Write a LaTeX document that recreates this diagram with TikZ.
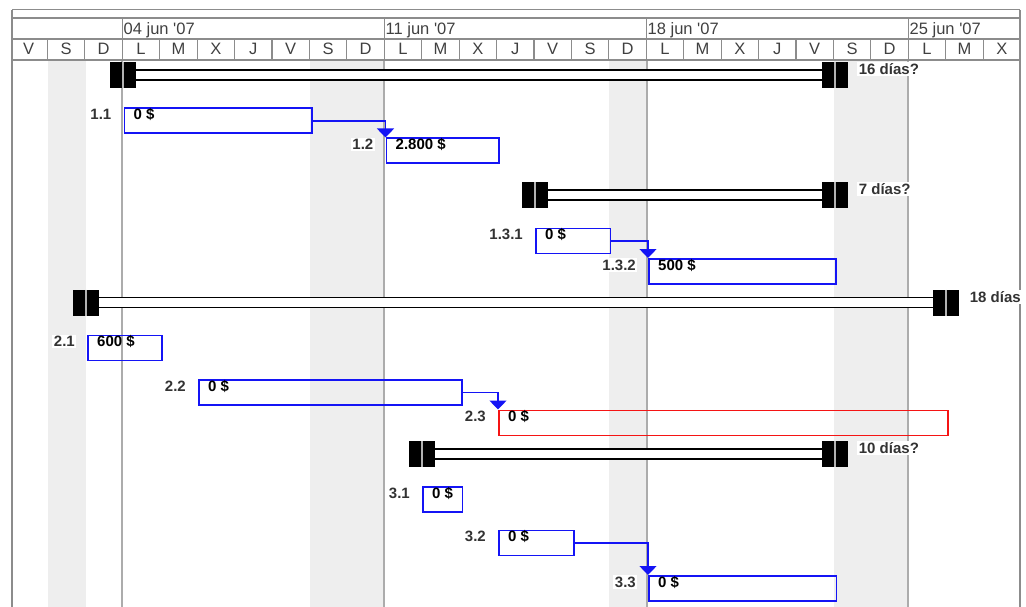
\documentclass[tikz,border=0pt]{standalone}
\usepackage{fontspec}
\setmainfont{Liberation Sans}
\usepackage{tikz}
\usetikzlibrary{arrows.meta}

\definecolor{gridgray}{RGB}{140,140,140}
\definecolor{hdrtext}{RGB}{64,64,64}
\definecolor{wbstext}{RGB}{51,51,51}
\definecolor{taskblue}{RGB}{20,20,245}
\definecolor{taskred}{RGB}{245,20,20}
\definecolor{weekend}{RGB}{238,238,238}
\definecolor{weekline}{RGB}{172,172,172}

\begin{document}
\begin{tikzpicture}[x=1pt,y=-1pt,
  hdr/.style={font=\fontsize{16.5}{18}\selectfont,text=hdrtext,inner sep=0pt},
  task/.style={draw=taskblue,line width=1.8pt,anchor=north west,minimum height=25pt,inner sep=0pt},
  crit/.style={task,draw=taskred},
  cost/.style={font=\fontsize{15}{17}\selectfont\bfseries,anchor=base west,xshift=10pt,yshift=-12pt,inner sep=0pt},
  wbs/.style={font=\fontsize{15}{17}\selectfont\bfseries,text=wbstext,fill=white,anchor=base east,xshift=-10.5pt,yshift=-12pt,inner sep=1.5pt},
  sumcap/.style={fill=black,minimum width=26pt,minimum height=26pt,inner sep=0pt,
    path picture={\draw[gray!60,line width=1.6pt] (path picture bounding box.north) -- (path picture bounding box.south);}},
  sumbar/.style={draw=black,line width=1.8pt,double=white,double distance=8.2pt},
  dur/.style={font=\fontsize{15}{17}\selectfont\bfseries,text=wbstext,fill=white,anchor=base west,xshift=9pt,yshift=-13pt,inner sep=1.5pt},
  link/.style={draw=taskblue,line width=1.5pt,-{Triangle[width=17pt,length=9pt]}}]
  \useasboundingbox (0,0) rectangle (1026,607);

  % weekends and week lines
  \foreach \a/\b in {48/86,309.5/384.4,609.3/646.7,833.9/908.3}
    \fill[weekend] (\a,60) rectangle (\b,607);
  \foreach \x in {122.3,384.4,646.7,908.3}
    \draw[weekline,line width=2pt] (\x,60) -- (\x,607);

  % timescale
  \draw[gridgray,line width=1pt] (12,10) -- (1020,10);
  \draw[gridgray,line width=2pt] (12,18) -- (1020,18);
  \draw[gridgray,line width=1.2pt] (12,39) -- (1020,39);
  \draw[gridgray,line width=1.4pt] (12,60) -- (1020,60);
  \draw[gridgray,line width=1.4pt] (12,10) -- (12,607);
  \draw[gridgray,line width=1.4pt] (1020,10) -- (1020,607);
  \foreach \k/\w in {0/04,7/11,14/18,21/25}{
    \draw[gridgray,line width=1.2pt] (122.3+\k*37.43,18) -- (122.3+\k*37.43,39);
    \node[hdr,anchor=base west] (w\w) at (123.5+\k*37.43,34.7) {\w\ jun \textquotesingle07};
  }
  \foreach \i in {1,...,26}
    \draw[gridgray,line width=1.2pt] (10+\i*37.43,39) -- (10+\i*37.43,60);
  \foreach \d [count=\i from 0] in {V,S,D,L,M,X,J,V,S,D,L,M,X,J,V,S,D,L,M,X,J,V,S,D,L,M,X}
    \node[hdr,anchor=base] (day\i) at (28.7+\i*37.43,55) {\d};

  % tasks
  \node[task,minimum width=187.5pt] (t11) at (123.5,107.5) {};
  \node[task,minimum width=112.5pt] (t12) at (385.5,137.5) {};
  \node[task,minimum width=74.5pt] (t131) at (535,227.5) {};
  \node[task,minimum width=187pt] (t132) at (648,258) {};
  \node[task,minimum width=74pt] (t21) at (87,334.5) {};
  \node[task,minimum width=263pt] (t22) at (198,379) {};
  \node[crit,minimum width=449pt] (t23) at (498,409.5) {};
  \node[task,minimum width=39.5pt] (t31) at (422,486) {};
  \node[task,minimum width=75pt] (t32) at (498,529.5) {};
  \node[task,minimum width=187.5pt] (t33) at (648,575) {};

  \node[cost] (c11) at (t11.north west) {0 \$};
  \node[cost] (c12) at (t12.north west) {2.800 \$};
  \node[cost] (c131) at (t131.north west) {0 \$};
  \node[cost] (c132) at (t132.north west) {500 \$};
  \node[cost] (c21) at (t21.north west) {600 \$};
  \node[cost] (c22) at (t22.north west) {0 \$};
  \node[cost] (c23) at (t23.north west) {0 \$};
  \node[cost] (c31) at (t31.north west) {0 \$};
  \node[cost] (c32) at (t32.north west) {0 \$};
  \node[cost] (c33) at (t33.north west) {0 \$};

  \draw[link] (t11.east) -| (t12.north west);
  \draw[link] (t131.east) -| (t132.north west);
  \draw[link] (t22.east) -| (t23.north west);
  \draw[link] (t32.east) -| (t33.north west);

  \node[wbs] (n11) at (t11.north west) {1.1};
  \node[wbs] (n12) at (t12.north west) {1.2};
  \node[wbs] (n131) at (t131.north west) {1.3.1};
  \node[wbs] (n132) at (t132.north west) {1.3.2};
  \node[wbs] (n21) at (t21.north west) {2.1};
  \node[wbs] (n22) at (t22.north west) {2.2};
  \node[wbs] (n23) at (t23.north west) {2.3};
  \node[wbs] (n31) at (t31.north west) {3.1};
  \node[wbs] (n32) at (t32.north west) {3.2};
  \node[wbs] (n33) at (t33.north west) {3.3};

  % summary tasks
  \node[sumcap] (s1a) at (123,75) {};
  \node[sumcap] (s1b) at (835,75) {};
  \node[sumcap] (s13a) at (535,195) {};
  \node[sumcap] (s13b) at (835,195) {};
  \node[sumcap] (s2a) at (86,302.5) {};
  \node[sumcap] (s2b) at (946,302.5) {};
  \node[sumcap] (s3a) at (422,454) {};
  \node[sumcap] (s3b) at (835,454) {};
  \draw[sumbar] (s1a) -- (s1b);
  \draw[sumbar] (s13a) -- (s13b);
  \draw[sumbar] (s2a) -- (s2b);
  \draw[sumbar] (s3a) -- (s3b);
  \node[dur] (d1) at (s1b.north east) {16 días?};
  \node[dur] (d13) at (s13b.north east) {7 días?};
  \node[dur] (d2) at (s2b.north east) {18 días};
  \node[dur] (d3) at (s3b.north east) {10 días?};
\end{tikzpicture}
\end{document}
